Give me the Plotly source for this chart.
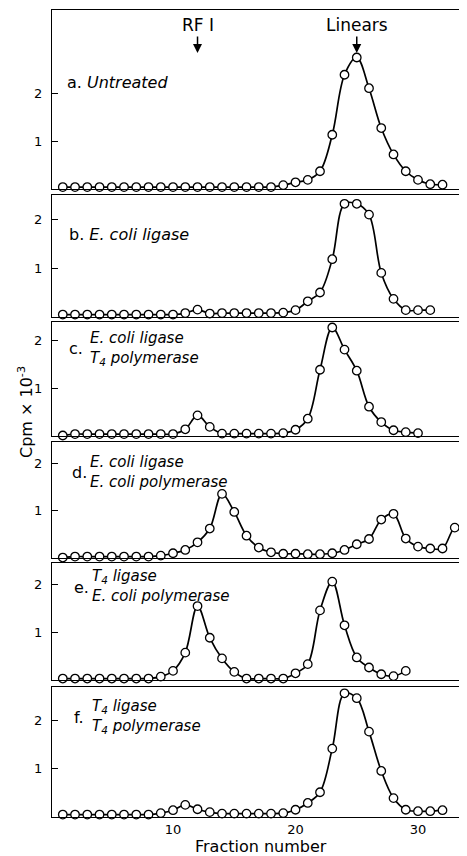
import plotly.graph_objects as go

# The page body has an 8 px default margin, so the figure is drawn 8 px
# smaller and every reference pixel position is shifted by OFF.
OFF = 8
W, H = 467 - OFF, 856 - OFF

# ---------------- data (cpm x 10^-3 per fraction) ----------------
frac_a = list(range(1, 33))
cpm_a = [0.04, 0.04, 0.04, 0.04, 0.04, 0.04, 0.04, 0.04, 0.04, 0.04,
         0.04, 0.04, 0.04, 0.04, 0.04, 0.04, 0.04, 0.04, 0.08, 0.14,
         0.19, 0.37, 1.13, 2.38, 2.74, 2.10, 1.27, 0.72, 0.37, 0.19,
         0.10, 0.09]

frac_b = list(range(1, 32))
cpm_b = [0.05, 0.05, 0.05, 0.05, 0.05, 0.05, 0.05, 0.05, 0.05, 0.05,
         0.08, 0.15, 0.07, 0.08, 0.08, 0.08, 0.08, 0.08, 0.09, 0.14,
         0.32, 0.50, 1.18, 2.31, 2.31, 2.09, 0.90, 0.37, 0.14, 0.14,
         0.14]

frac_c = list(range(1, 31))
cpm_c = [0.01, 0.04, 0.04, 0.04, 0.04, 0.04, 0.04, 0.04, 0.04, 0.04,
         0.14, 0.43, 0.19, 0.05, 0.05, 0.05, 0.05, 0.05, 0.06, 0.13,
         0.36, 1.38, 2.26, 1.80, 1.36, 0.61, 0.29, 0.12, 0.08, 0.06]

frac_d = list(range(1, 35))
cpm_d = [0.01, 0.03, 0.03, 0.03, 0.03, 0.03, 0.03, 0.03, 0.05, 0.10,
         0.17, 0.33, 0.62, 1.35, 0.97, 0.47, 0.22, 0.12, 0.09, 0.09,
         0.08, 0.08, 0.10, 0.17, 0.29, 0.40, 0.81, 0.93, 0.41, 0.24,
         0.20, 0.20, 0.64, 0.69]

frac_e = list(range(1, 30))
cpm_e = [0.03, 0.03, 0.03, 0.03, 0.03, 0.03, 0.03, 0.03, 0.07, 0.19,
         0.57, 1.54, 0.88, 0.45, 0.17, 0.03, 0.03, 0.03, 0.03, 0.14,
         0.33, 1.45, 2.05, 1.14, 0.47, 0.26, 0.12, 0.08, 0.19]

frac_f = list(range(1, 33))
cpm_f = [0.05, 0.05, 0.05, 0.05, 0.05, 0.05, 0.05, 0.05, 0.08, 0.14,
         0.25, 0.16, 0.10, 0.07, 0.07, 0.07, 0.07, 0.07, 0.08, 0.15,
         0.29, 0.51, 1.41, 2.55, 2.45, 1.76, 0.95, 0.39, 0.15, 0.12,
         0.12, 0.14]

panel_letters = ["a.", "b.", "c.", "d.", "e.", "f."]
panel_lines = [
    ["Untreated"],
    ["E. coli ligase"],
    ["E. coli ligase", "T<sub>4</sub> polymerase"],
    ["E. coli ligase", "E. coli polymerase"],
    ["T<sub>4</sub> ligase", "E. coli polymerase"],
    ["T<sub>4</sub> ligase", "T<sub>4</sub> polymerase"],
]
x_ticks = [10, 20, 30]
y_ticks = [1, 2]
x_title = "Fraction number"
y_title = "Cpm × 10<sup>-3</sup>"
markers_text = [("RF I", 12), ("Linears", 25)]

series = [(frac_a, cpm_a), (frac_b, cpm_b), (frac_c, cpm_c),
          (frac_d, cpm_d), (frac_e, cpm_e), (frac_f, cpm_f)]

# ---------------- layout geometry (reference pixels) ----------------
# (top px, bottom px, px per unit)
panels_px = [(10, 189, 48.0), (195, 317, 49.0), (322, 436, 48.0),
             (442, 558, 47.5), (563, 680, 48.0), (687, 817, 48.5)]
x_left_px, x_right_px = 52, 467
x_range = [0.12, 34.0]


def px_x(x):
    return (x - OFF) / W


def px_y(y):
    return 1 - (y - OFF) / H


FONT = "DejaVu Sans"
fig = go.Figure()
layout = dict(
    width=W, height=H, margin=dict(l=0, r=0, t=0, b=0),
    paper_bgcolor="white", plot_bgcolor="white", showlegend=False,
    font=dict(family=FONT, size=13, color="black"),
)

annotations = []
for i, ((xs, ys), (top, bot, unit)) in enumerate(zip(series, panels_px)):
    n = i + 1
    xa = "x" if n == 1 else f"x{n}"
    ya = "y" if n == 1 else f"y{n}"
    fig.add_trace(go.Scatter(
        x=xs, y=ys, xaxis=xa, yaxis=ya, mode="lines+markers",
        line=dict(color="black", width=1.7, shape="spline", smoothing=1.0),
        marker=dict(symbol="circle", size=8.5, color="white",
                    line=dict(color="black", width=1.3)),
        cliponaxis=False,
    ))
    yr = [0, (bot - top) / unit]
    dom = [px_y(bot), px_y(top)]
    layout[f"xaxis{'' if n == 1 else n}"] = dict(
        domain=[px_x(x_left_px), px_x(x_right_px)], range=x_range,
        anchor=ya, showgrid=False, zeroline=False,
        showline=True, mirror=True, linecolor="black", linewidth=1.3,
        ticks="", tickvals=x_ticks, showticklabels=(n == 6),
        tickfont=dict(size=13),
    )
    layout[f"yaxis{'' if n == 1 else n}"] = dict(
        domain=dom, range=yr, anchor=xa, showgrid=False, zeroline=False,
        showline=True, linecolor="black", linewidth=1.3,
        ticks="inside", ticklen=6, tickwidth=1.2, tickcolor="black",
        tickvals=y_ticks, ticklabelstandoff=6, tickfont=dict(size=13),
    )
    # right-side ticks
    m = n + 6
    layout[f"yaxis{m}"] = dict(
        overlaying=ya, side="right", anchor=xa, range=yr,
        showgrid=False, zeroline=False, showline=False,
        ticks="inside", ticklen=5, tickwidth=1.2, tickcolor="black",
        tickvals=y_ticks, showticklabels=False,
    )

LABEL_SIZE = 15
label_pos = [
    # (letter x, letter y, text x, text block centre y)
    (65, 82, None, 82),
    (67, 234, None, 234),
    (67, 348, 88, 348),
    (70, 472, 88, 472),
    (72, 587, 90, 586),
    (72, 717, 90, 716),
]
for letter, lines, (lx, ly, tx, ty) in zip(panel_letters, panel_lines, label_pos):
    if tx is None:
        annotations.append(dict(
            xref="paper", yref="paper", x=px_x(lx), y=px_y(ly),
            xanchor="left", yanchor="middle", showarrow=False,
            text=f"{letter} <i>{lines[0]}</i>",
            font=dict(family=FONT, size=LABEL_SIZE + 1)))
    else:
        annotations.append(dict(
            xref="paper", yref="paper", x=px_x(lx), y=px_y(ly),
            xanchor="left", yanchor="middle", showarrow=False,
            text=letter, font=dict(family=FONT, size=LABEL_SIZE + 1)))
        annotations.append(dict(
            xref="paper", yref="paper", x=px_x(tx), y=px_y(ty),
            xanchor="left", yanchor="middle", showarrow=False, align="left",
            text="<br>".join(f"<i>{t}</i>" for t in lines),
            font=dict(family=FONT, size=LABEL_SIZE)))

# RF I and Linears arrows in panel a
top_a, bot_a, unit_a = panels_px[0]
for txt, fx in markers_text:
    annotations.append(dict(
        xref="x", yref="y", x=fx, y=(bot_a - 53) / unit_a,
        text=txt, showarrow=True, ax=0, ay=-28,
        arrowhead=2, arrowsize=1.2, arrowwidth=1.5, arrowcolor="black",
        font=dict(family=FONT, size=17)))

# axis titles
annotations.append(dict(
    xref="paper", yref="paper", x=px_x(261), y=px_y(846),
    text=x_title, showarrow=False, font=dict(family=FONT, size=16),
    xanchor="center", yanchor="middle"))
annotations.append(dict(
    xref="paper", yref="paper", x=px_x(26), y=px_y(412),
    text=y_title, showarrow=False, textangle=-90,
    font=dict(family=FONT, size=16), xanchor="center", yanchor="middle"))

layout["annotations"] = annotations
fig.update_layout(**layout)
fig.write_html("out.html")
